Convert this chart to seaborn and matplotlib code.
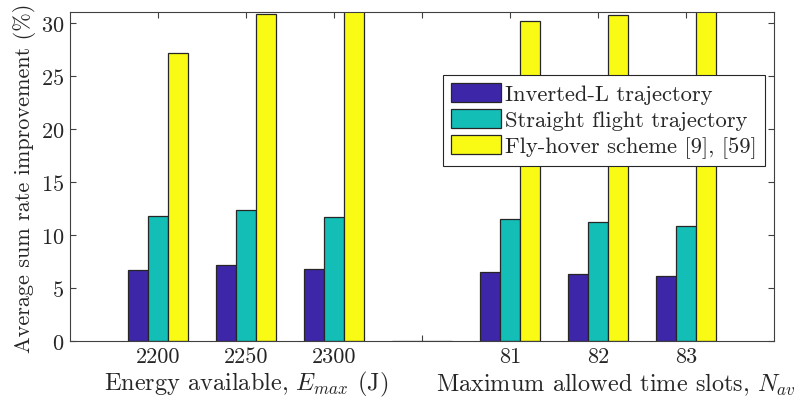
import matplotlib
matplotlib.use("Agg")
import matplotlib.pyplot as plt
import seaborn as sns
import pandas as pd

# Groups along the x axis: three energy budgets, an empty spacer, three slot limits
groups = ["2200", "2250", "2300", " ", "81", "82", "83"]
tick_labels = ["2200", "2250", "2300", "", "81", "82", "83"]
schemes = ["Inverted-L trajectory", "Straight flight trajectory", "Fly-hover scheme [9], [59]"]

inverted_l = [6.72, 7.22, 6.79, 0.0, 6.56, 6.37, 6.15]
straight = [11.78, 12.37, 11.69, 0.0, 11.50, 11.22, 10.84]
fly_hover = [27.17, 30.88, 31.5, 0.0, 30.16, 30.72, 31.5]

colors = ["#3E26A8", "#13BEB7", "#F9FB15"]

rows = []
for scheme, vals in zip(schemes, [inverted_l, straight, fly_hover]):
    for g, v in zip(groups, vals):
        rows.append({"group": g, "scheme": scheme, "value": v})
df = pd.DataFrame(rows)

sns.set_style("ticks")
plt.rcParams["font.family"] = ["cmr10", "DejaVu Serif"]
plt.rcParams["mathtext.fontset"] = "cm"
plt.rcParams["axes.unicode_minus"] = False
plt.rcParams["axes.formatter.use_mathtext"] = True

fig = plt.figure(figsize=(8.08, 4.10), dpi=100)
ax = fig.add_axes([0.0866, 0.165, 0.958 - 0.0866, 0.9676 - 0.165])

sns.barplot(data=df, x="group", y="value", hue="scheme", order=groups,
            hue_order=schemes, palette=colors, saturation=1, width=0.68,
            edgecolor="#262626", linewidth=0.9, ax=ax)

ax.set_xlim(-1, 7)
ax.set_ylim(0, 31)
ax.set_yticks([0, 5, 10, 15, 20, 25, 30])
ax.set_xticks(range(len(groups)))
ax.set_xticklabels(tick_labels)
ax.set_xlabel("")
ax.set_ylabel("Average sum rate improvement (%)", fontsize=16, labelpad=4)

ax.tick_params(axis="both", direction="in", top=True, right=True, length=4,
               width=0.8, color="#404040", labelsize=16, pad=4)
for s in ax.spines.values():
    s.set_visible(True)
    s.set_color("#404040")
    s.set_linewidth(0.8)

ax.text(1, -0.128, r"Energy available, $E_{max}$ (J)", transform=ax.get_xaxis_transform(),
        ha="center", va="center", fontsize=17.5)
ax.text(5.2, -0.128, r"Maximum allowed time slots, $N_{av}$", transform=ax.get_xaxis_transform(),
        ha="center", va="center", fontsize=17.5)

handles, labels = ax.get_legend_handles_labels()
leg = ax.legend(handles, labels, loc="upper left", bbox_to_anchor=(0.53, 0.809),
                fontsize=16.2, frameon=True, fancybox=False, framealpha=1,
                edgecolor="#262626", handlelength=2.2, handleheight=0.95,
                labelspacing=0.2, handletextpad=0.2, borderpad=0.35,
                borderaxespad=0)
leg.get_frame().set_linewidth(0.8)

fig.savefig("out.png", dpi=100)
